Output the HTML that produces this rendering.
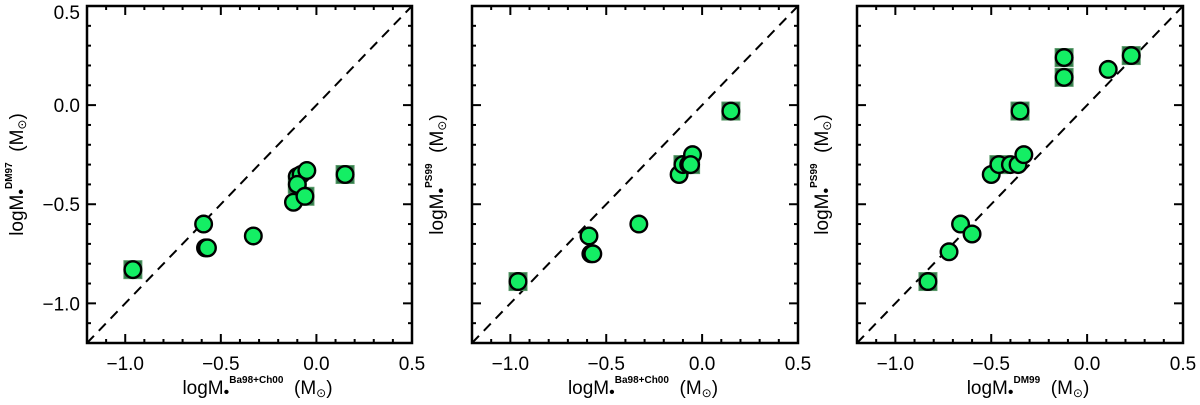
<!DOCTYPE html>
<html><head><meta charset="utf-8"><style>
body{margin:0;background:#fff;width:1200px;height:400px;overflow:hidden}
svg text{font-family:"Liberation Sans",sans-serif;fill:#000}
</style></head><body>
<svg id="fig" width="1200" height="400" xmlns="http://www.w3.org/2000/svg"></svg>
<script>
// Panel 1: Ba98+Ch00 vs DM97
const p1X=[-0.96,-0.59,-0.58,-0.57,-0.33,-0.12,-0.10,-0.08,-0.10,-0.05,-0.06,0.15];
const p1Y=[-0.83,-0.60,-0.72,-0.72,-0.66,-0.49,-0.36,-0.35,-0.40,-0.33,-0.46,-0.35];
const p1S=[1,0,0,0,0,0,0,0,1,0,1,1];
// Panel 2: Ba98+Ch00 vs PS99
const p2X=[-0.96,-0.59,-0.58,-0.57,-0.33,-0.12,-0.10,-0.07,-0.05,-0.06,0.15];
const p2Y=[-0.89,-0.66,-0.75,-0.75,-0.60,-0.35,-0.30,-0.30,-0.25,-0.30,-0.03];
const p2S=[1,0,0,0,0,0,1,0,0,1,1];
// Panel 3: DM99 vs PS99
const p3X=[-0.83,-0.72,-0.66,-0.60,-0.50,-0.46,-0.40,-0.36,-0.33,-0.35,-0.12,-0.12,0.11,0.23];
const p3Y=[-0.89,-0.74,-0.60,-0.65,-0.35,-0.30,-0.30,-0.30,-0.25,-0.03,0.14,0.24,0.18,0.25];
const p3S=[1,0,0,0,0,1,0,0,0,1,1,1,0,1];
const xTicks=[-1.0,-0.5,0.0,0.5];
const yTicks=[-1.0,-0.5,0.0,0.5];
const xTickLabels=["\u22121.0","\u22120.5","0.0","0.5"];
const yTickLabels=["\u22121.0","\u22120.5","0.0","0.5"];

const NS="http://www.w3.org/2000/svg";
const svg=document.getElementById('fig');
function mk(tag,attrs,parent){const e=document.createElementNS(NS,tag);for(const k in attrs)e.setAttribute(k,attrs[k]);(parent||svg).appendChild(e);return e;}
function tsp(parent,txt,attrs){const t=mk('tspan',attrs||{},parent);t.textContent=txt;return t;}
function title(t,sup){
 tsp(t,'logM');
 tsp(t,'\u2022',{'font-size':16,dy:3});
 tsp(t,sup,{'font-size':10,'font-weight':'bold',dy:-14});
 tsp(t,'\u00a0\u00a0(M',{dy:11});
 tsp(t,'\u2299',{'font-size':12,dy:3});
 tsp(t,')',{dy:-3});
}
const lo=-1.2,hi=0.5,yTop=6,yBot=343;
const panels=[
 {L:87,R:412,X:p1X,Y:p1Y,S:p1S,xl:"Ba98+Ch00",yl:"DM97",ylx:23,ylabels:true},
 {L:472,R:798,X:p2X,Y:p2Y,S:p2S,xl:"Ba98+Ch00",yl:"PS99",ylx:443,ylabels:false},
 {L:857,R:1183,X:p3X,Y:p3Y,S:p3S,xl:"DM99",yl:"PS99",ylx:828,ylabels:false}
];
panels.forEach((p,pi)=>{
 const g=mk('g',{});
 
 
 const sx=v=>p.L+(v-lo)/(hi-lo)*(p.R-p.L);
 const sy=v=>yBot-(v-lo)/(hi-lo)*(yBot-yTop);
 for(let i=-12;i<=5;i++){
  const v=i/10, major=(i%5===0), len=major?9:4;
  const x=sx(v), y=sy(v);
  mk('line',{x1:x,y1:yBot,x2:x,y2:yBot-len,stroke:'#000','stroke-width':2},g);
  mk('line',{x1:x,y1:yTop,x2:x,y2:yTop+len,stroke:'#000','stroke-width':2},g);
  mk('line',{x1:p.L,y1:y,x2:p.L+len,y2:y,stroke:'#000','stroke-width':2},g);
  mk('line',{x1:p.R,y1:y,x2:p.R-len,y2:y,stroke:'#000','stroke-width':2},g);
 }
 xTicks.forEach((v,i)=>{const t=mk('text',{x:sx(v),y:370,'font-size':19,'text-anchor':'middle'},g);t.textContent=xTickLabels[i];
  
  });
 if(p.ylabels) yTicks.forEach((v,i)=>{const t=mk('text',{x:p.L-7,y:Math.max(sy(v)+7,19),'font-size':19,'text-anchor':'end'},g);t.textContent=yTickLabels[i];
  
  });
 const d=mk('line',{x1:sx(lo),y1:sy(lo),x2:sx(hi),y2:sy(hi),stroke:'#000','stroke-width':2,'stroke-dasharray':'10,7'},g);
 
 
 p.X.forEach((x,i)=>{if(p.S[i]){const r=mk('rect',{x:sx(x)-9,y:sy(p.Y[i])-9,width:18,height:18,fill:'#2f7a48',stroke:'#5a9a6a','stroke-width':1},g);
  
  }});
 p.X.forEach((x,i)=>{const c=mk('circle',{cx:sx(x),cy:sy(p.Y[i]),r:8.3,fill:'#14ee64',stroke:'#000','stroke-width':2.4},g);
  
  });
 const f=mk('rect',{x:p.L,y:yTop,width:p.R-p.L,height:yBot-yTop,fill:'none',stroke:'#000','stroke-width':2.5},g);
 
 
 const cx=(p.L+p.R)/2;
 const xt=mk('text',{x:cx+8,y:394,'font-size':19,'text-anchor':'middle'},g);
 
 
 title(xt,p.xl);
 const yt=mk('text',{x:0,y:0,'font-size':19,'text-anchor':'middle',transform:'translate('+p.ylx+','+((yTop+yBot)/2)+') rotate(-90)'},g);
 
 
 title(yt,p.yl);
});
</script>
</body></html>
